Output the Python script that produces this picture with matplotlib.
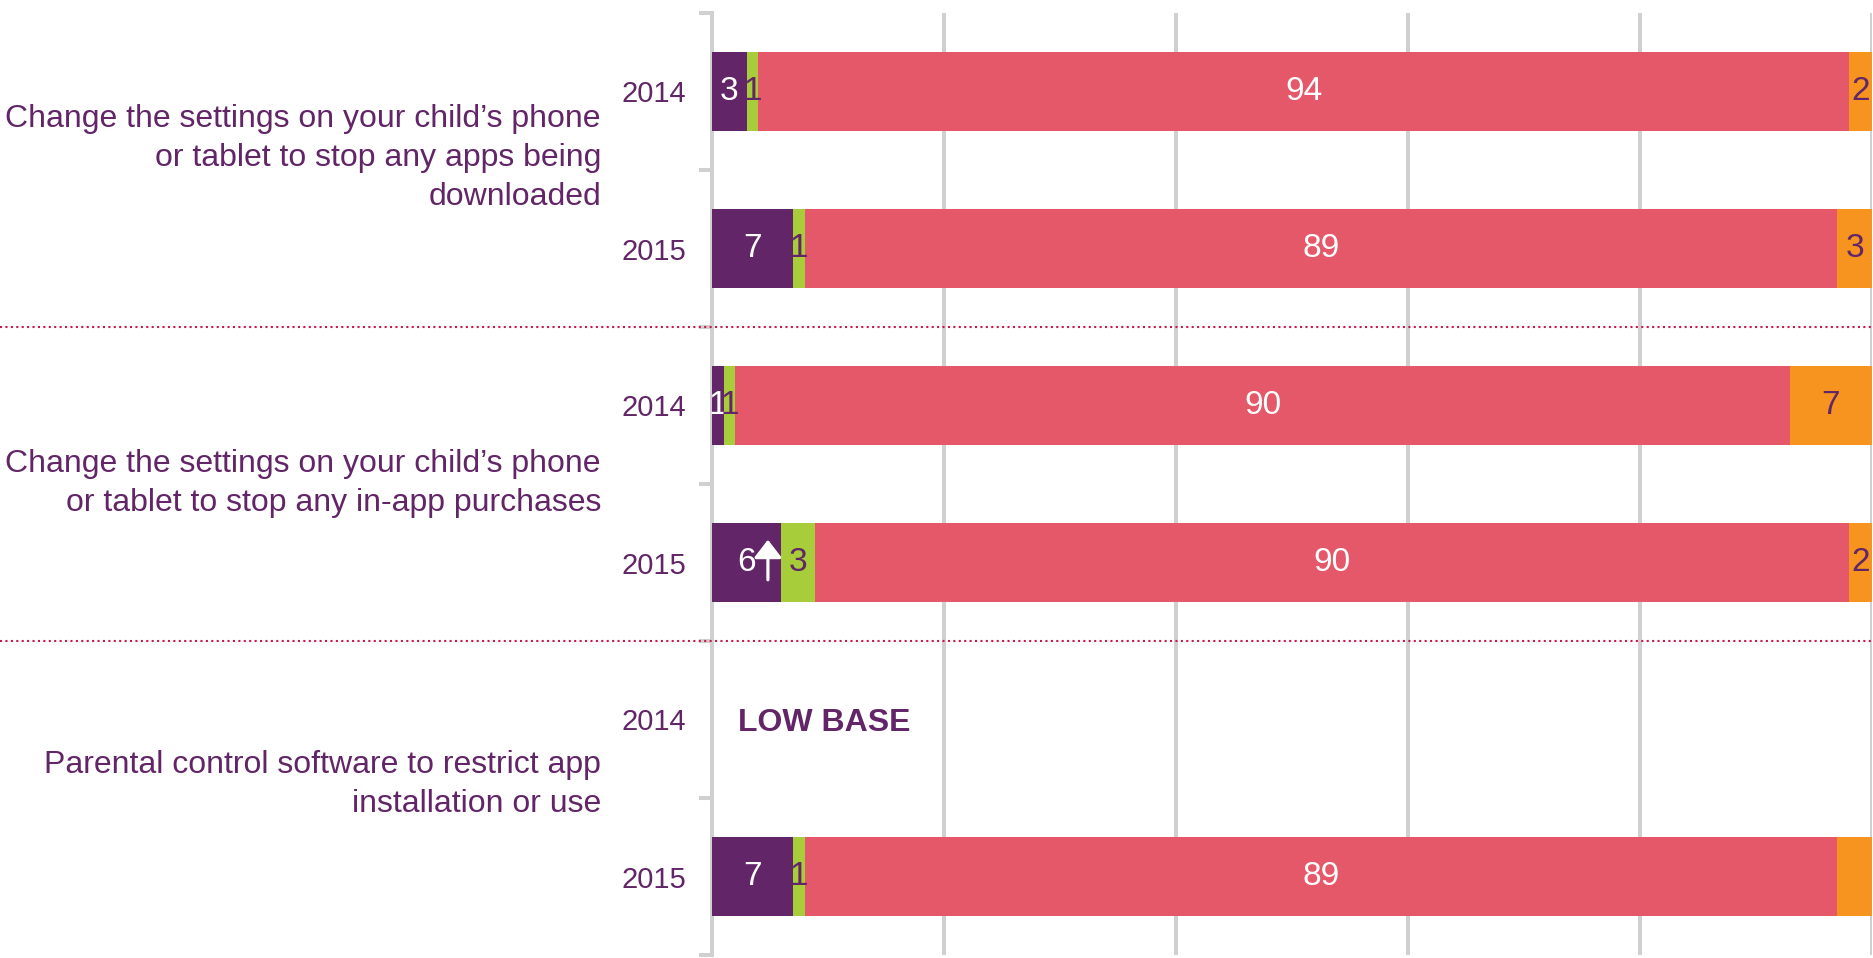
import numpy as np
import matplotlib
matplotlib.use("Agg")
import matplotlib.pyplot as plt
from matplotlib.transforms import blended_transform_factory

# ---------------- data ----------------
categories = [
    "Change the settings on your child\u2019s phone\nor tablet to stop any apps being\ndownloaded",
    "Change the settings on your child\u2019s phone\nor tablet to stop any in-app purchases",
    "Parental control software to restrict app\ninstallation or use",
]
years = ["2014", "2015", "2014", "2015", "2014", "2015"]
purple_vals = [3, 7, 1, 6, np.nan, 7]
green_vals = [1, 1, 1, 3, np.nan, 1]
red_vals = [94, 89, 90, 90, np.nan, 89]
orange_vals = [2, 3, 7, 2, np.nan, 3]
orange_label_shown = [True, True, True, True, False, False]
purple_sig_up = [False, False, False, True, False, False]
notes = ["", "", "", "", "LOW BASE", ""]

# ---------------- style ----------------
PURPLE = "#622567"
GREEN = "#A8CD3A"
RED = "#E55869"
ORANGE = "#F6941F"
GRID = "#D0D0D0"
SEP = "#C8174A"
plt.rcParams["font.family"] = ["Liberation Sans", "DejaVu Sans"]

fig = plt.figure(figsize=(18.74, 9.58), dpi=100)
ax = fig.add_axes([712 / 1874, 3 / 958, 1160 / 1874, 942 / 958])

n = len(years)
y = np.arange(n)
series = [
    (purple_vals, PURPLE, "white"),
    (green_vals, GREEN, PURPLE),
    (red_vals, RED, "white"),
    (orange_vals, ORANGE, PURPLE),
]
raw = np.array([s[0] for s in series], dtype=float)
totals = np.nansum(raw, axis=0)
totals[totals == 0] = np.nan
shares = raw / totals * 100

left = np.zeros(n)
for si, (vals, col, tcol) in enumerate(series):
    w = np.nan_to_num(shares[si])
    ax.barh(y, w, left=left, height=0.5, color=col, zorder=3)
    for i in range(n):
        if np.isnan(raw[si, i]):
            continue
        if si == 3 and not orange_label_shown[i]:
            continue
        cx = left[i] + w[i] / 2
        ax.text(cx, y[i], f"{int(raw[si, i])}", ha="center", va="center",
                color=tcol, fontsize=24, zorder=5)
        if si == 0 and purple_sig_up[i]:
            ax.annotate("", xy=(cx + 1.85, y[i] - 0.145), xytext=(cx + 1.85, y[i] + 0.11),
                        arrowprops=dict(arrowstyle="-|>,head_width=0.85,head_length=1.1",
                                        color="white", lw=2.3, shrinkA=0, shrinkB=0),
                        zorder=6)
    left = left + w

for i, note in enumerate(notes):
    if note:
        ax.text(2.2, y[i] + 0.02, note, ha="left", va="center", color=PURPLE,
                fontsize=23, fontweight="bold", zorder=5)

ax.set_xlim(0, 100)
ax.set_ylim(n - 0.5, -0.5)

# grid
ax.set_xticks([20, 40, 60, 80, 100])
ax.xaxis.grid(True, color=GRID, lw=2.9, zorder=0)
ax.tick_params(axis="x", length=0, labelbottom=False)
ax.set_axisbelow(True)

# y axis: year labels + boundary ticks
ax.set_yticks(y)
ax.set_yticklabels(years, fontsize=21, color=PURPLE)
ax.tick_params(axis="y", which="major", length=0, pad=18.5)
ax.set_yticks(np.arange(-0.5, n, 1.0), minor=True)
ax.tick_params(axis="y", which="minor", length=9.5, width=2.9, color=GRID)

for s in ["top", "right", "bottom"]:
    ax.spines[s].set_visible(False)
ax.spines["left"].set_color(GRID)
ax.spines["left"].set_linewidth(2.9)

# group separators
tr = blended_transform_factory(ax.transAxes, ax.transData)
x0 = -712 / 1160
for g in range(1, len(categories)):
    yy = 2 * g - 0.5
    ax.plot([x0, 1.0], [yy, yy], transform=tr, color=SEP, lw=1.5,
            linestyle=(0, (1, 1.6)), clip_on=False, zorder=4)

# category labels
offsets = [-0.075, -0.005, -0.085]
for g, cat in enumerate(categories):
    ax.text(-111 / 1160, 2 * g + 0.5 + offsets[g], cat, transform=tr,
            ha="right", va="center", color=PURPLE, fontsize=23,
            linespacing=1.38, multialignment="right")

fig.savefig("out.png", dpi=100)
